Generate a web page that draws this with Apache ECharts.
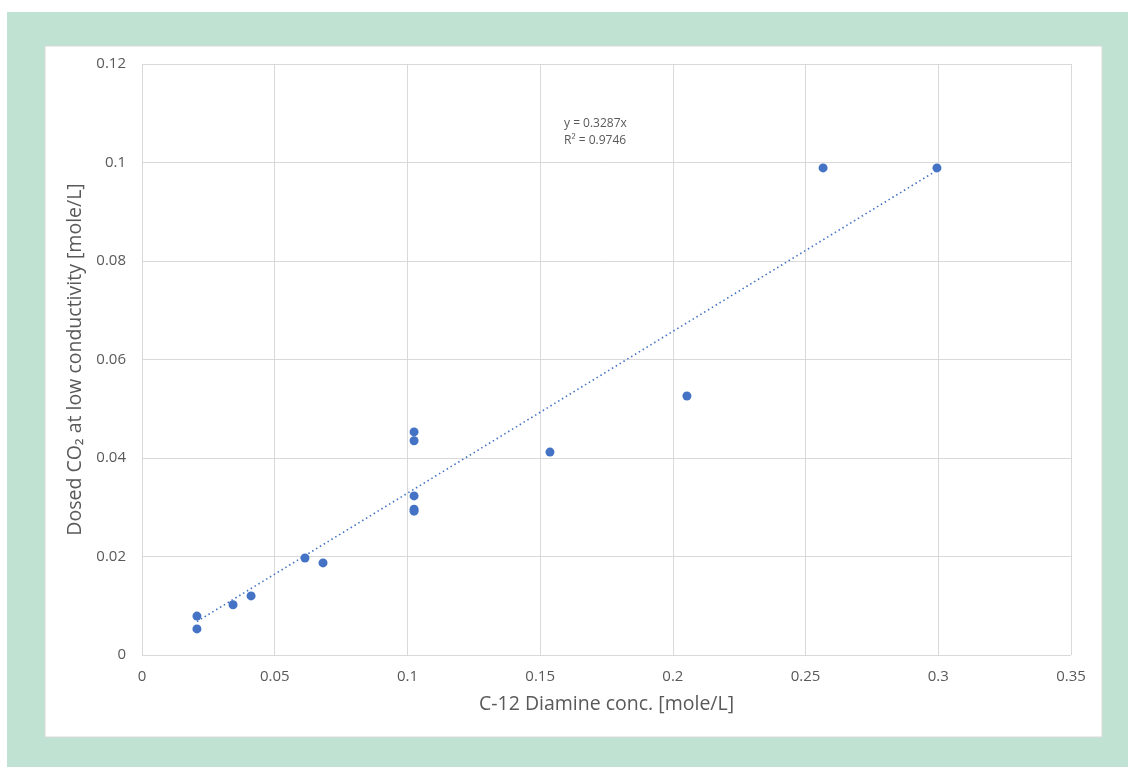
<!DOCTYPE html>
<html>
<head>
<meta charset="utf-8">
<script src="https://cdn.jsdelivr.net/npm/echarts@6/dist/echarts.min.js"></script>
<style>
html,body{margin:0;padding:0;background:#fff;}
#c{width:1128px;height:767px;}
</style>
</head>
<body>
<div id="c"></div>
<script>
var diamineConc = [0.0207, 0.0207, 0.0343, 0.0411, 0.0614, 0.0682, 0.1025, 0.1025, 0.1025, 0.1025, 0.1025, 0.1537, 0.2053, 0.2566, 0.2995];
var dosedCO2   = [0.0079, 0.0053, 0.0102, 0.0120, 0.0197, 0.0187, 0.0453, 0.0435, 0.0323, 0.0296, 0.0292, 0.0412, 0.0526, 0.0989, 0.0989];
var trendX = [0.0207, 0.2995];
var trendY = [0.0068, 0.0984];
var equationText = ['y = 0.3287x', 'R² = 0.9746'];
var xTitle = 'C-12 Diamine conc. [mole/L]';
var yTitle = 'Dosed CO₂ at low conductivity [mole/L]';

var pts = diamineConc.map(function(x, i){ return [x, dosedCO2[i]]; });
var trend = trendX.map(function(x, i){ return [x, trendY[i]]; });

var chart = echarts.init(document.getElementById('c'), null, {renderer:'canvas'});
var font = '"Open Sans", "Liberation Sans", sans-serif';
chart.setOption({
  animation: false,
  backgroundColor: '#ffffff',
  graphic: [
    {type:'rect', z:-10, shape:{x:7, y:12, width:1121, height:755}, style:{fill:'#bfe2d3'}},
    {type:'rect', z:-9, shape:{x:45, y:46, width:1057, height:691}, style:{fill:'#ffffff', stroke:'#d9d9d9', lineWidth:1}},
    {type:'text', z:10, left:564, top:115, style:{text: equationText.join('\n'), font:'12px ' + font, fill:'#595959', lineHeight:17}}
  ],
  grid: {left:142, right:57, top:64, bottom:112, containLabel:false},
  xAxis: {
    type:'value', min:0, max:0.35, interval:0.05,
    name: xTitle, nameLocation:'middle', nameGap:39,
    nameTextStyle:{fontFamily:font, fontSize:19.5, color:'#595959'},
    axisLine:{show:false}, axisTick:{show:false},
    axisLabel:{fontFamily:font, fontSize:15, color:'#595959', margin:14},
    splitLine:{show:true, lineStyle:{color:'#d9d9d9', width:1}}
  },
  yAxis: {
    type:'value', min:0, max:0.12, interval:0.02,
    name: yTitle, nameLocation:'middle', nameGap:52,
    nameTextStyle:{fontFamily:font, fontSize:19.5, color:'#595959'},
    axisLine:{show:false}, axisTick:{show:false},
    axisLabel:{fontFamily:font, fontSize:15, color:'#595959', margin:16},
    splitLine:{show:true, lineStyle:{color:'#d9d9d9', width:1}}
  },
  series: [
    {type:'line', data:trend, symbol:'none', lineStyle:{color:'#4472c4', width:1.6, type:[1.5,3]}, z:2},
    {type:'scatter', data:pts, symbol:'circle', symbolSize:9, itemStyle:{color:'#4472c4', opacity:1}, z:3}
  ]
});
</script>
</body>
</html>
